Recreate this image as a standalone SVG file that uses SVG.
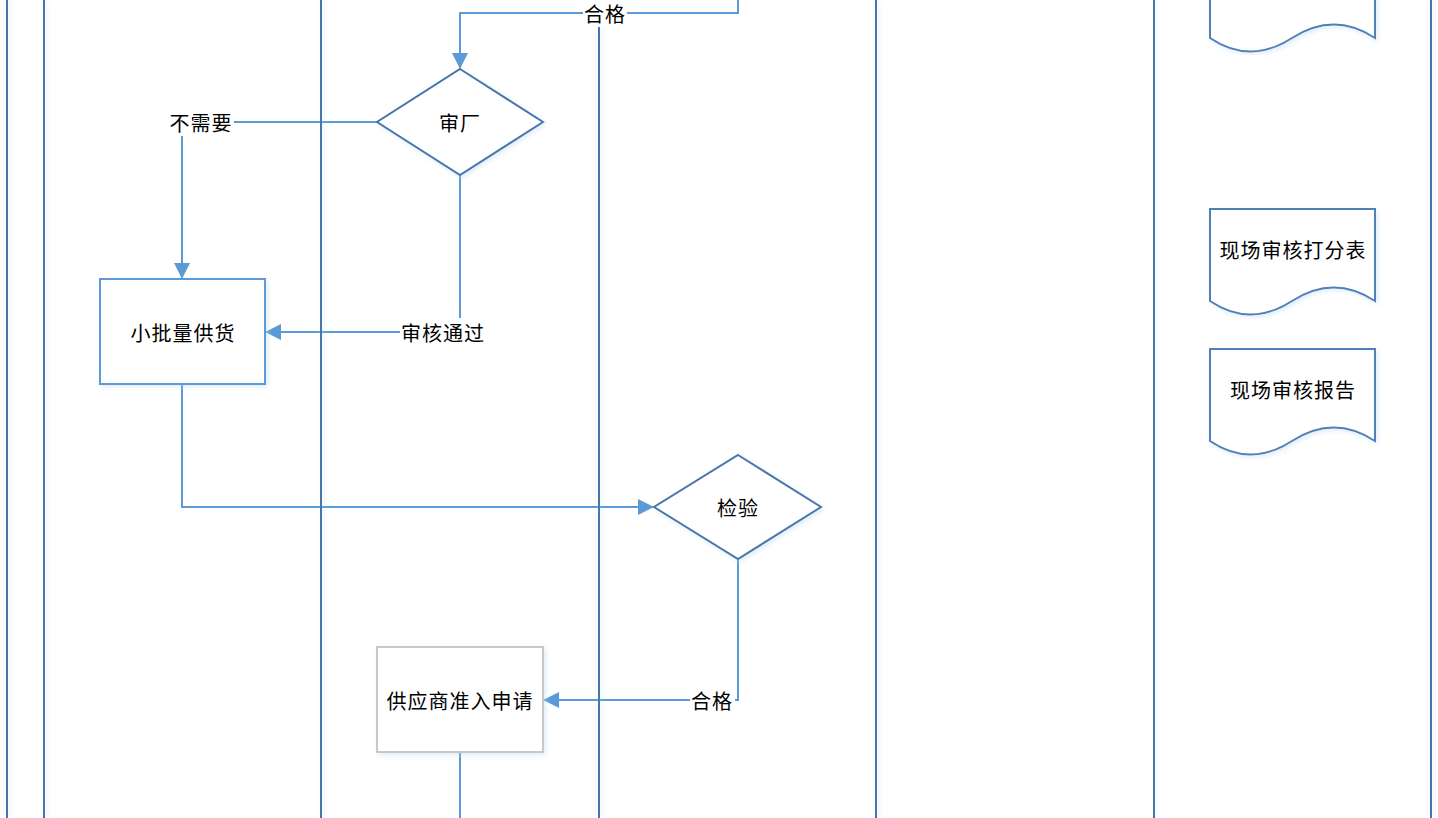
<svg xmlns="http://www.w3.org/2000/svg" width="1438" height="818" viewBox="0 0 1438 818">
<style>
.lane{stroke:#4677aa;stroke-width:2;fill:none}
.conn{stroke:#5b9bd5;stroke-width:2;fill:none}
.dia{stroke:#4677aa;stroke-width:2;fill:#fff;filter:url(#sh)}
.doc{stroke:#4f81b8;stroke-width:2;fill:#fff;filter:url(#sh)}
.boxb{stroke:#5b9bd5;stroke-width:2;fill:#fff;filter:url(#sh)}
.boxg{stroke:#c8c8c8;stroke-width:2;fill:#fff;filter:url(#sh)}
text{font-family:"Noto Sans CJK SC","Noto Sans",sans-serif;font-size:20px;letter-spacing:1px;fill:#000;text-anchor:middle;dominant-baseline:central}
.lbg{fill:#fff}
</style>
<defs>
<filter id="sh" x="-20%" y="-5%" width="140%" height="110%">
<feGaussianBlur in="SourceAlpha" stdDeviation="2.5"/>
<feOffset dx="2" dy="2" result="b"/>
<feFlood flood-color="#bcd4ee" flood-opacity="0.45"/>
<feComposite in2="b" operator="in"/>
<feMerge><feMergeNode/><feMergeNode in="SourceGraphic"/></feMerge>
</filter>
<filter id="lsh" filterUnits="userSpaceOnUse" x="0" y="0" width="1438" height="818">
<feGaussianBlur in="SourceAlpha" stdDeviation="2.5"/>
<feOffset dx="2" dy="0" result="b"/>
<feFlood flood-color="#bcd4ee" flood-opacity="0.45"/>
<feComposite in2="b" operator="in"/>
<feMerge><feMergeNode/><feMergeNode in="SourceGraphic"/></feMerge>
</filter>
<marker id="ah" markerWidth="16" markerHeight="16" viewBox="0 0 16 16" refX="15" refY="8" orient="auto" markerUnits="userSpaceOnUse">
<path d="M0,0 L16,8 L0,16 Z" fill="#5b9bd5"/>
</marker>
</defs>
<rect width="1438" height="818" fill="#fff"/>
<g id="connectors">
<polyline class="conn" points="738,0 738,13 460,13 460,68" marker-end="url(#ah)"/>
<polyline class="conn" points="377,122 182,122 182,278" marker-end="url(#ah)"/>
<polyline class="conn" points="460,175 460,332 266,332" marker-end="url(#ah)"/>
<polyline class="conn" points="182,384 182,507 653,507" marker-end="url(#ah)"/>
<polyline class="conn" points="738,559 738,700 544,700" marker-end="url(#ah)"/>
<line class="conn" x1="460" y1="752" x2="460" y2="818"/>
</g>
<g id="lanes" filter="url(#lsh)">
<line class="lane" x1="7" y1="0" x2="7" y2="818"/>
<line class="lane" x1="44" y1="0" x2="44" y2="818"/>
<line class="lane" x1="321" y1="0" x2="321" y2="818"/>
<line class="lane" x1="599" y1="0" x2="599" y2="818"/>
<line class="lane" x1="876" y1="0" x2="876" y2="818"/>
<line class="lane" x1="1154" y1="0" x2="1154" y2="818"/>
<line class="lane" x1="1431" y1="0" x2="1431" y2="818"/>
</g>
<g id="connector-labels">
<rect class="lbg" x="583" y="0" width="44" height="27"/>
<text x="605" y="13">合格</text>
<rect class="lbg" x="168" y="108" width="66" height="28"/>
<text x="201" y="122">不需要</text>
<rect class="lbg" x="400" y="318" width="86" height="28"/>
<text x="443" y="332">审核通过</text>
<rect class="lbg" x="690" y="686" width="45" height="28"/>
<text x="712" y="700">合格</text>
</g>
<g id="node-shenchang">
<polygon class="dia" points="460,69 543,122 460,175 377,122"/>
<text x="460" y="122">审厂</text>
</g>
<g id="node-xiaopiliang">
<rect class="boxb" x="100" y="279" width="165" height="105"/>
<text x="183" y="332">小批量供货</text>
</g>
<g id="node-jianyan">
<polygon class="dia" points="738,455 821,507 738,559 654,507"/>
<text x="738" y="507">检验</text>
</g>
<g id="node-zhunru">
<rect class="boxg" x="377" y="647" width="166" height="105"/>
<text x="460" y="700">供应商准入申请</text>
</g>
<g id="node-doc-top">
<path class="doc" d="M1210,-5 L1210,38 Q1250,65 1292,38 Q1334,11 1375,38 L1375,-5"/>
</g>
<g id="node-doc-dafen">
<path class="doc" d="M1210,209 L1375,209 L1375,301 Q1334,274 1292,301 Q1250,328 1210,301 Z"/>
<text x="1293" y="249">现场审核打分表</text>
</g>
<g id="node-doc-baogao">
<path class="doc" d="M1210,349 L1375,349 L1375,441 Q1334,414 1292,441 Q1250,468 1210,441 Z"/>
<text x="1293" y="389">现场审核报告</text>
</g>
</svg>
